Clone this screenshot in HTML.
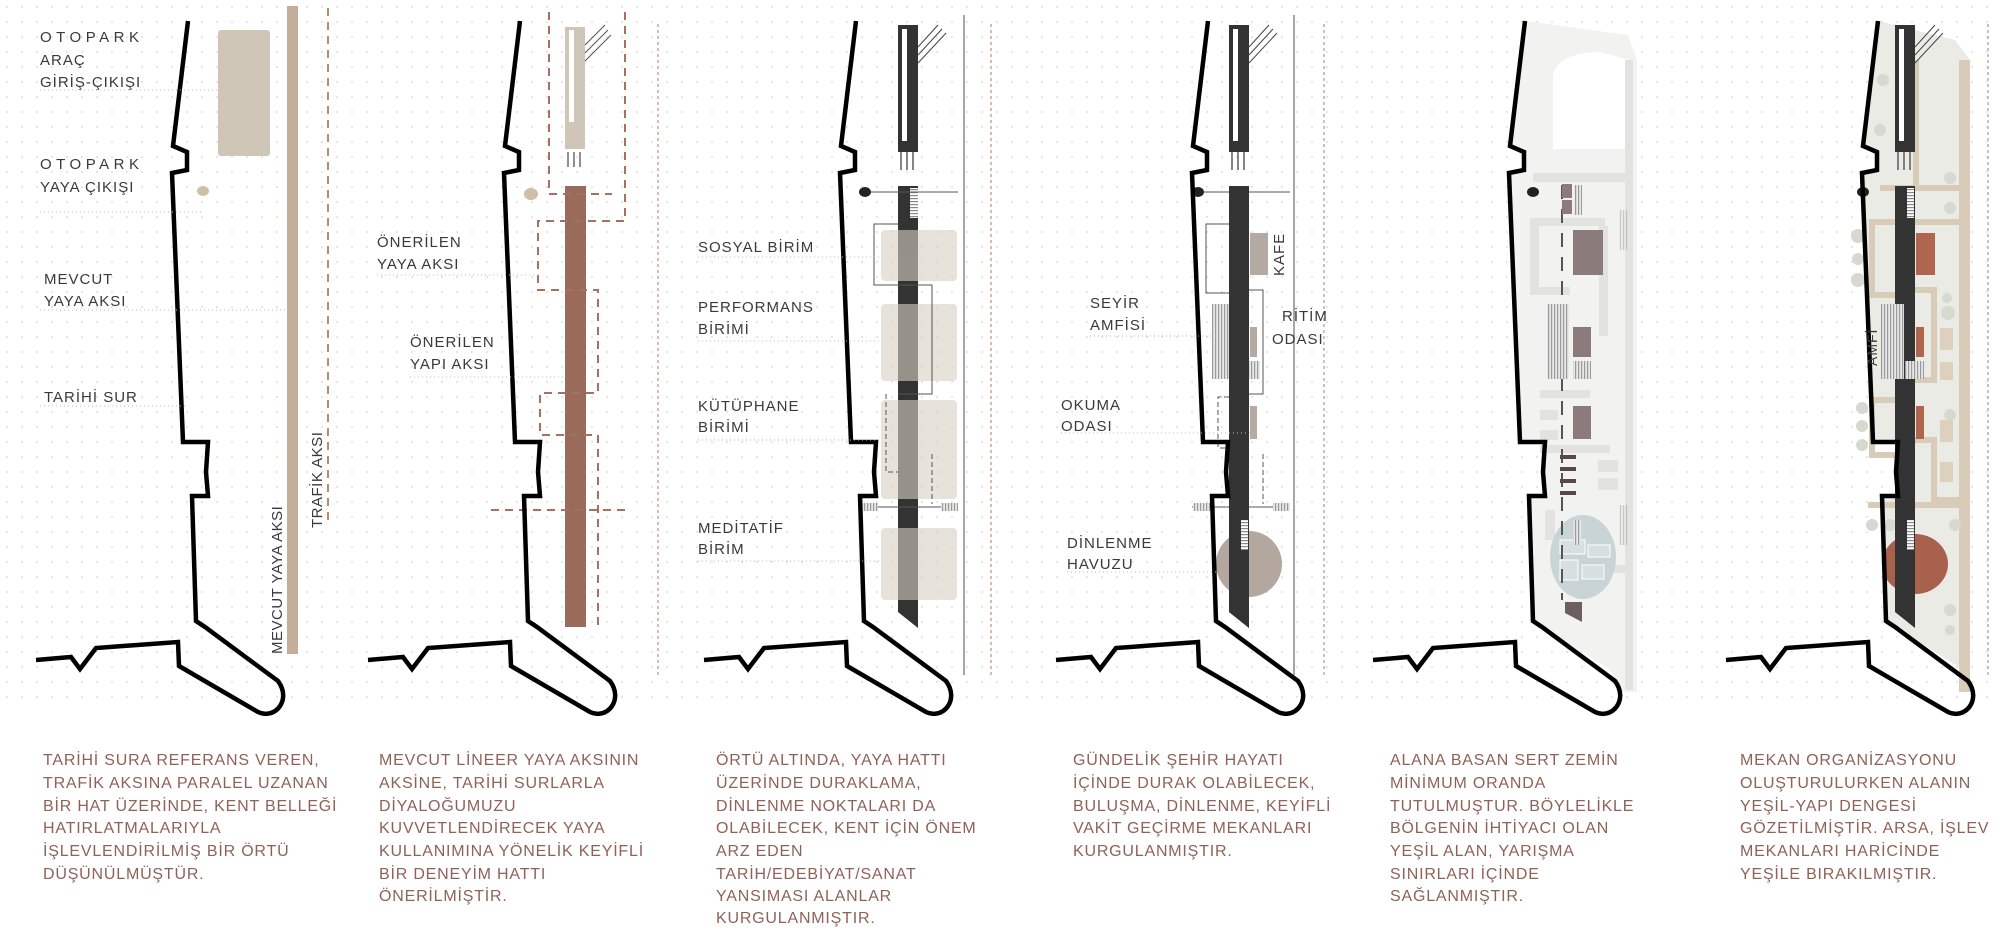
<!DOCTYPE html>
<html><head><meta charset="utf-8"><style>
html,body{margin:0;padding:0;background:#fff;}
svg{display:block;}
.lb{font-family:"Liberation Sans",sans-serif;font-size:15px;fill:#3a3a3a;letter-spacing:1px;}
.wide{letter-spacing:4.5px;}
.pg{font-family:"Liberation Sans",sans-serif;font-size:16px;fill:#8f6258;letter-spacing:0.8px;}
.ld{stroke:#bbb;stroke-width:1;stroke-dasharray:1 3;}
</style></head><body>
<svg width="2000" height="936" viewBox="0 0 2000 936" xmlns="http://www.w3.org/2000/svg">
<defs>
<pattern id="dots" width="15" height="15" patternUnits="userSpaceOnUse"><circle cx="7" cy="7" r="0.9" fill="#d4d4d4"/></pattern>
<pattern id="str" width="3" height="4" patternUnits="userSpaceOnUse"><rect width="3" height="4" fill="#e8e8e8"/><rect width="1.2" height="4" fill="#9a9a9a"/></pattern>
<pattern id="hstr" width="4" height="3" patternUnits="userSpaceOnUse"><rect width="4" height="3" fill="#fff"/><rect width="4" height="1.2" fill="#888"/></pattern>
<path id="wall" d="M36,660 L71,657 L80,669 L96,648 L178,642 L179,666 L258,712 C275,720 292,700 278,681 L205,627 L196,621 L192,496 L208,496 L206,472 L208,442 L183,442 L172,173 L187,170 L187,152 L173,146 L188,21" fill="none" stroke="#000" stroke-width="4.5" stroke-linejoin="miter"/>
<g id="topel">
<rect x="0" y="0" width="20" height="127" fill="#333"/>
<rect x="4" y="4" width="5" height="112" fill="#fff"/>
<path d="M20,22 L40,0 M20,30 L44,4 M20,38 L48,8" stroke="#444" stroke-width="1"/>
<path d="M3,127 V145 M9,127 V145 M15,127 V145" stroke="#444" stroke-width="1.3"/>
</g>
<path id="bar" d="M0,0 H20 V442 L0,426 Z" fill="#333"/>
</defs>
<rect x="0" y="0" width="2000" height="700" fill="url(#dots)"/>

<!-- PANEL 1 -->
<rect x="218" y="30" width="52" height="126" rx="3" fill="#cfc6b7"/>
<ellipse cx="203" cy="191" rx="6" ry="5" fill="#cdbfa8"/>
<rect x="287" y="6" width="11" height="648" fill="#c4ad9a"/>
<line x1="328" y1="8" x2="328" y2="525" stroke="#b88a78" stroke-width="2" stroke-dasharray="8 6"/>
<use href="#wall"/>
<line class="ld" x1="40" y1="90" x2="240" y2="90"/>
<line class="ld" x1="40" y1="212" x2="203" y2="212"/>
<line class="ld" x1="40" y1="310" x2="287" y2="310"/>
<line class="ld" x1="40" y1="406" x2="185" y2="406"/>
<text class="lb wide" x="40" y="42">OTOPARK</text>
<text class="lb" x="40" y="65">ARAÇ</text>
<text class="lb" x="40" y="87">GİRİŞ-ÇIKIŞI</text>
<text class="lb wide" x="40" y="169">OTOPARK</text>
<text class="lb" x="40" y="192">YAYA ÇIKIŞI</text>
<text class="lb" x="44" y="284">MEVCUT</text>
<text class="lb" x="44" y="306">YAYA AKSI</text>
<text class="lb" x="44" y="402">TARİHİ SUR</text>
<text class="lb" transform="translate(282,654) rotate(-90)" style="letter-spacing:0.5px">MEVCUT YAYA AKSI</text>
<text class="lb" transform="translate(322,528) rotate(-90)" style="letter-spacing:0.5px">TRAFİK AKSI</text>

<!-- PANEL 2 -->
<rect x="565" y="27" width="20" height="122" fill="#cfc6b7"/>
<rect x="569" y="30" width="5" height="92" fill="#fff"/>
<path d="M585,45 L605,25 M585,53 L608,30 M585,61 L611,35" stroke="#555" stroke-width="1"/>
<path d="M568,152 V167 M574,152 V167 M580,152 V167" stroke="#555" stroke-width="1.3"/>
<ellipse cx="531" cy="194" rx="7" ry="6" fill="#cdbfa8"/>
<rect x="565" y="186" width="21" height="441" fill="#9a6a5a"/>
<path d="M549,12 V194 H612 M625,12 V221 H538 V290 H598 V393 H540 V435 H598 V627 M491,510 H627" fill="none" stroke="#a8705f" stroke-width="2" stroke-dasharray="8 6"/>
<line x1="658" y1="24" x2="658" y2="675" stroke="#c9a898" stroke-width="1.5" stroke-dasharray="3 3"/>
<use href="#wall" transform="translate(332,0)"/>
<line class="ld" x1="377" y1="275" x2="538" y2="275"/>
<line class="ld" x1="410" y1="377" x2="565" y2="377"/>
<text class="lb" x="377" y="247">ÖNERİLEN</text>
<text class="lb" x="377" y="269">YAYA AKSI</text>
<text class="lb" x="410" y="347">ÖNERİLEN</text>
<text class="lb" x="410" y="369">YAPI AKSI</text>

<!-- PANEL 3 -->
<use href="#topel" transform="translate(898,25)"/>
<use href="#bar" transform="translate(898,186)"/>
<rect x="910" y="188" width="8" height="30" fill="url(#hstr)"/>
<ellipse cx="865" cy="192" rx="6" ry="5" fill="#222"/>
<line x1="871" y1="192" x2="958" y2="192" stroke="#555" stroke-width="1"/>
<g fill="#d8d0c2" opacity="0.6">
<rect x="881" y="230" width="76" height="51" rx="4"/>
<rect x="881" y="304" width="76" height="77" rx="4"/>
<rect x="881" y="400" width="76" height="99" rx="4"/>
<rect x="881" y="528" width="76" height="72" rx="4"/>
</g>
<path d="M898,224 H874 V285 H932 V394 H898" fill="none" stroke="#555" stroke-width="1"/>
<path d="M886,394 V472 H898 M932,454 V504" fill="none" stroke="#555" stroke-width="1" stroke-dasharray="5 3"/>
<line x1="861" y1="507" x2="958" y2="507" stroke="#555" stroke-width="1"/>
<rect x="861" y="503" width="17" height="8" fill="url(#str)"/>
<rect x="941" y="503" width="17" height="8" fill="url(#str)"/>
<line x1="964" y1="15" x2="964" y2="675" stroke="#888" stroke-width="1.5"/>
<line x1="991" y1="24" x2="991" y2="675" stroke="#c9a898" stroke-width="1.5" stroke-dasharray="3 3"/>
<use href="#wall" transform="translate(668,0)"/>
<line class="ld" x1="698" y1="257" x2="881" y2="257"/>
<line class="ld" x1="698" y1="341" x2="881" y2="341"/>
<line class="ld" x1="698" y1="440" x2="881" y2="440"/>
<line class="ld" x1="698" y1="561" x2="881" y2="561"/>
<text class="lb" x="698" y="252">SOSYAL BİRİM</text>
<text class="lb" x="698" y="312">PERFORMANS</text>
<text class="lb" x="698" y="334">BİRİMİ</text>
<text class="lb" x="698" y="411">KÜTÜPHANE</text>
<text class="lb" x="698" y="432">BİRİMİ</text>
<text class="lb" x="698" y="533">MEDİTATİF</text>
<text class="lb" x="698" y="554">BİRİM</text>

<!-- PANEL 4 -->
<use href="#topel" transform="translate(1229,25)"/>
<use href="#bar" transform="translate(1229,186)"/>
<rect x="1241" y="188" width="7" height="30" fill="url(#hstr)"/>
<ellipse cx="1198" cy="192" rx="6" ry="5" fill="#222"/>
<line x1="1204" y1="192" x2="1290" y2="192" stroke="#555" stroke-width="1"/>
<rect x="1250" y="233" width="18" height="42" fill="#b5a9a3"/>
<path d="M1229,224 H1206 V293 H1229" fill="none" stroke="#555" stroke-width="1"/>
<rect x="1212" y="304" width="24" height="75" fill="url(#str)"/>
<rect x="1250" y="327" width="7" height="30" fill="#b5a9a3"/>
<rect x="1240" y="361" width="20" height="18" fill="url(#str)"/>
<path d="M1248,290 H1263 V394 H1248" fill="none" stroke="#555" stroke-width="1"/>
<rect x="1250" y="406" width="7" height="33" fill="#b5a9a3"/>
<path d="M1229,397 H1218 V448 H1229 M1263,454 V504" fill="none" stroke="#555" stroke-width="1" stroke-dasharray="5 3"/>
<line x1="1192" y1="507" x2="1290" y2="507" stroke="#555" stroke-width="1"/>
<rect x="1193" y="503" width="17" height="8" fill="url(#str)"/>
<rect x="1273" y="503" width="17" height="8" fill="url(#str)"/>
<circle cx="1249" cy="564" r="33" fill="#b3a7a0"/>
<use href="#bar" transform="translate(1229,186)" opacity="1"/>
<rect x="1241" y="520" width="7" height="30" fill="url(#hstr)"/>
<line x1="1294" y1="15" x2="1294" y2="675" stroke="#888" stroke-width="1.5"/>
<line x1="1324" y1="24" x2="1324" y2="675" stroke="#c9a898" stroke-width="1.5" stroke-dasharray="3 3"/>
<use href="#wall" transform="translate(1020,0)"/>
<line class="ld" x1="1090" y1="336" x2="1212" y2="336"/>
<line class="ld" x1="1061" y1="433" x2="1250" y2="433"/>
<line class="ld" x1="1067" y1="572" x2="1216" y2="572"/>
<text class="lb" x="1090" y="308">SEYİR</text>
<text class="lb" x="1090" y="330">AMFİSİ</text>
<text class="lb" x="1282" y="321">RİTİM</text>
<text class="lb" x="1272" y="344">ODASI</text>
<text class="lb" x="1061" y="410">OKUMA</text>
<text class="lb" x="1061" y="431">ODASI</text>
<text class="lb" x="1067" y="548">DİNLENME</text>
<text class="lb" x="1067" y="569">HAVUZU</text>
<text class="lb" transform="translate(1284,276) rotate(-90)">KAFE</text>

<!-- PANEL 5 -->
<path d="M1525,21 L1510,146 L1524,152 L1524,170 L1509,173 L1520,442 L1545,442 L1543,472 L1545,496 L1529,496 L1533,621 L1542,627 L1609,669 L1622,692 L1637,692 L1637,60 L1628,35 Z" fill="#f2f2f0"/>
<path d="M1553,149 V75 Q1560,52 1600,52 L1630,60 V149 Z" fill="#fff"/>
<g fill="#e2e2e0">
<rect x="1533" y="173" width="100" height="9"/>
<rect x="1530" y="218" width="75" height="8"/>
<rect x="1530" y="218" width="9" height="75"/>
<rect x="1530" y="287" width="40" height="8"/>
<rect x="1599" y="226" width="9" height="110"/>
<rect x="1540" y="390" width="50" height="8"/>
<rect x="1540" y="410" width="18" height="10"/>
<rect x="1540" y="430" width="18" height="10"/>
<rect x="1540" y="445" width="70" height="8"/>
<rect x="1598" y="460" width="20" height="12"/>
<rect x="1598" y="478" width="20" height="12"/>
<rect x="1625" y="60" width="8" height="630"/>
<rect x="1545" y="510" width="10" height="30"/>
<rect x="1600" y="565" width="30" height="8"/>
</g>
<rect x="1619" y="210" width="10" height="40" fill="url(#str)" opacity="0.5"/>
<rect x="1619" y="505" width="10" height="40" fill="url(#str)" opacity="0.5"/>
<ellipse cx="1583" cy="557" rx="33" ry="42" fill="#c9d4d6"/>
<g fill="#d8dfe0" stroke="#fff" stroke-width="1">
<rect x="1560" y="540" width="25" height="14"/><rect x="1588" y="545" width="22" height="12"/><rect x="1560" y="560" width="18" height="20"/><rect x="1582" y="565" width="22" height="14"/>
</g>
<line x1="1562" y1="185" x2="1562" y2="600" stroke="#555" stroke-width="2" stroke-dasharray="14 10"/>
<rect x="1562" y="184" width="10" height="14" fill="#8c7b7b"/>
<rect x="1562" y="200" width="10" height="14" fill="#8c7b7b"/>
<rect x="1574" y="185" width="8" height="30" fill="url(#str)"/>
<rect x="1573" y="230" width="30" height="45" fill="#8c7b7b"/>
<rect x="1547" y="304" width="22" height="75" fill="url(#str)"/>
<rect x="1573" y="327" width="18" height="30" fill="#8c7b7b"/>
<rect x="1573" y="361" width="18" height="18" fill="url(#str)"/>
<rect x="1573" y="406" width="18" height="33" fill="#8c7b7b"/>
<g fill="#5a4848"><rect x="1560" y="455" width="16" height="4"/><rect x="1560" y="467" width="16" height="4"/><rect x="1560" y="479" width="16" height="4"/><rect x="1560" y="491" width="16" height="4"/></g>
<rect x="1573" y="520" width="8" height="25" fill="url(#str)"/>
<path d="M1565,602 H1582 V622 L1565,613 Z" fill="#6e5e5e"/>
<ellipse cx="1533" cy="192" rx="6" ry="5" fill="#222"/>
<use href="#wall" transform="translate(1337,0)"/>

<!-- PANEL 6 -->
<path d="M1878,21 L1863,146 L1877,152 L1877,170 L1862,173 L1873,442 L1898,442 L1896,472 L1898,496 L1882,496 L1886,621 L1895,627 L1962,669 L1975,692 L1970,692 L1970,60 L1955,40 Z" fill="#eaebe5"/>
<rect x="1959" y="60" width="11" height="632" fill="#d8ccb8"/>
<g fill="none" stroke="#d8ccb8" stroke-width="6">
<path d="M1880,188 H1965"/>
<path d="M1916,60 V188"/>
<path d="M1895,222 H1872 V295 H1910"/>
<path d="M1914,222 H1962"/>
<path d="M1914,290 H1934 V380 H1914"/>
<path d="M1895,400 H1872 V455 H1895"/>
<path d="M1914,440 H1934 V500 H1965"/>
<path d="M1868,505 H1965"/>
</g>
<g fill="#d6d9d0">
<circle cx="1858" cy="236" r="7"/><circle cx="1858" cy="259" r="6"/><circle cx="1858" cy="280" r="7"/>
<circle cx="1950" cy="178" r="6"/><circle cx="1950" cy="208" r="6"/><circle cx="1947" cy="298" r="5"/><circle cx="1948" cy="313" r="7"/>
<circle cx="1862" cy="408" r="6"/><circle cx="1862" cy="426" r="6"/><circle cx="1862" cy="445" r="6"/>
<circle cx="1950" cy="415" r="6"/><circle cx="1872" cy="525" r="6"/><circle cx="1890" cy="525" r="6"/>
<circle cx="1955" cy="525" r="6"/><circle cx="1950" cy="610" r="6"/><circle cx="1950" cy="630" r="5"/>
<circle cx="1883" cy="80" r="6"/><circle cx="1880" cy="130" r="6"/>
</g>
<g fill="#ddd0bc">
<rect x="1940" y="328" width="13" height="22"/><rect x="1940" y="362" width="13" height="18"/>
<rect x="1940" y="420" width="13" height="22"/><rect x="1940" y="462" width="13" height="20"/>
</g>
<ellipse cx="1915" cy="564" rx="33" ry="30" fill="#a8614d"/>
<use href="#topel" transform="translate(1895,25)"/>
<use href="#bar" transform="translate(1895,186)"/>
<rect x="1907" y="188" width="7" height="30" fill="url(#hstr)"/>
<rect x="1907" y="520" width="7" height="30" fill="url(#hstr)"/>
<rect x="1916" y="233" width="19" height="42" fill="#b0654f"/>
<rect x="1916" y="327" width="8" height="30" fill="#b0654f"/>
<rect x="1916" y="406" width="8" height="33" fill="#b0654f"/>
<rect x="1881" y="304" width="23" height="75" fill="url(#str)"/>
<rect x="1905" y="361" width="19" height="18" fill="url(#str)"/>
<ellipse cx="1863" cy="192" rx="6" ry="5" fill="#222"/>
<line x1="1988" y1="24" x2="1988" y2="675" stroke="#c9a898" stroke-width="1.5" stroke-dasharray="3 3"/>
<use href="#wall" transform="translate(1690,0)"/>
<text class="lb" transform="translate(1877,366) rotate(-90)" style="font-size:14px">AMFİ</text>

<!-- PARAGRAPHS -->
<g class="pg">
<text x="43" y="765">TARİHİ SURA REFERANS VEREN,</text>
<text x="43" y="788">TRAFİK AKSINA PARALEL UZANAN</text>
<text x="43" y="811">BİR HAT ÜZERİNDE, KENT BELLEĞİ</text>
<text x="43" y="833">HATIRLATMALARIYLA</text>
<text x="43" y="856">İŞLEVLENDİRİLMİŞ BİR ÖRTÜ</text>
<text x="43" y="879">DÜŞÜNÜLMÜŞTÜR.</text>

<text x="379" y="765">MEVCUT LİNEER YAYA AKSININ</text>
<text x="379" y="788">AKSİNE, TARİHİ SURLARLA</text>
<text x="379" y="811">DİYALOĞUMUZU</text>
<text x="379" y="833">KUVVETLENDİRECEK YAYA</text>
<text x="379" y="856">KULLANIMINA YÖNELİK KEYİFLİ</text>
<text x="379" y="879">BİR DENEYİM HATTI</text>
<text x="379" y="901">ÖNERİLMİŞTİR.</text>

<text x="716" y="765">ÖRTÜ ALTINDA, YAYA HATTI</text>
<text x="716" y="788">ÜZERİNDE DURAKLAMA,</text>
<text x="716" y="811">DİNLENME NOKTALARI DA</text>
<text x="716" y="833">OLABİLECEK, KENT İÇİN ÖNEM</text>
<text x="716" y="856">ARZ EDEN</text>
<text x="716" y="879">TARİH/EDEBİYAT/SANAT</text>
<text x="716" y="901">YANSIMASI ALANLAR</text>
<text x="716" y="923">KURGULANMIŞTIR.</text>

<text x="1073" y="765">GÜNDELİK ŞEHİR HAYATI</text>
<text x="1073" y="788">İÇİNDE DURAK OLABİLECEK,</text>
<text x="1073" y="811">BULUŞMA, DİNLENME, KEYİFLİ</text>
<text x="1073" y="833">VAKİT GEÇİRME MEKANLARI</text>
<text x="1073" y="856">KURGULANMIŞTIR.</text>

<text x="1390" y="765">ALANA BASAN SERT ZEMİN</text>
<text x="1390" y="788">MİNİMUM ORANDA</text>
<text x="1390" y="811">TUTULMUŞTUR. BÖYLELİKLE</text>
<text x="1390" y="833">BÖLGENİN İHTİYACI OLAN</text>
<text x="1390" y="856">YEŞİL ALAN, YARIŞMA</text>
<text x="1390" y="879">SINIRLARI İÇİNDE</text>
<text x="1390" y="901">SAĞLANMIŞTIR.</text>

<text x="1740" y="765">MEKAN ORGANİZASYONU</text>
<text x="1740" y="788">OLUŞTURULURKEN ALANIN</text>
<text x="1740" y="811">YEŞİL-YAPI DENGESİ</text>
<text x="1740" y="833">GÖZETİLMİŞTİR. ARSA, İŞLEV</text>
<text x="1740" y="856">MEKANLARI HARİCİNDE</text>
<text x="1740" y="879">YEŞİLE BIRAKILMIŞTIR.</text>
</g>
</svg>
</body></html>
